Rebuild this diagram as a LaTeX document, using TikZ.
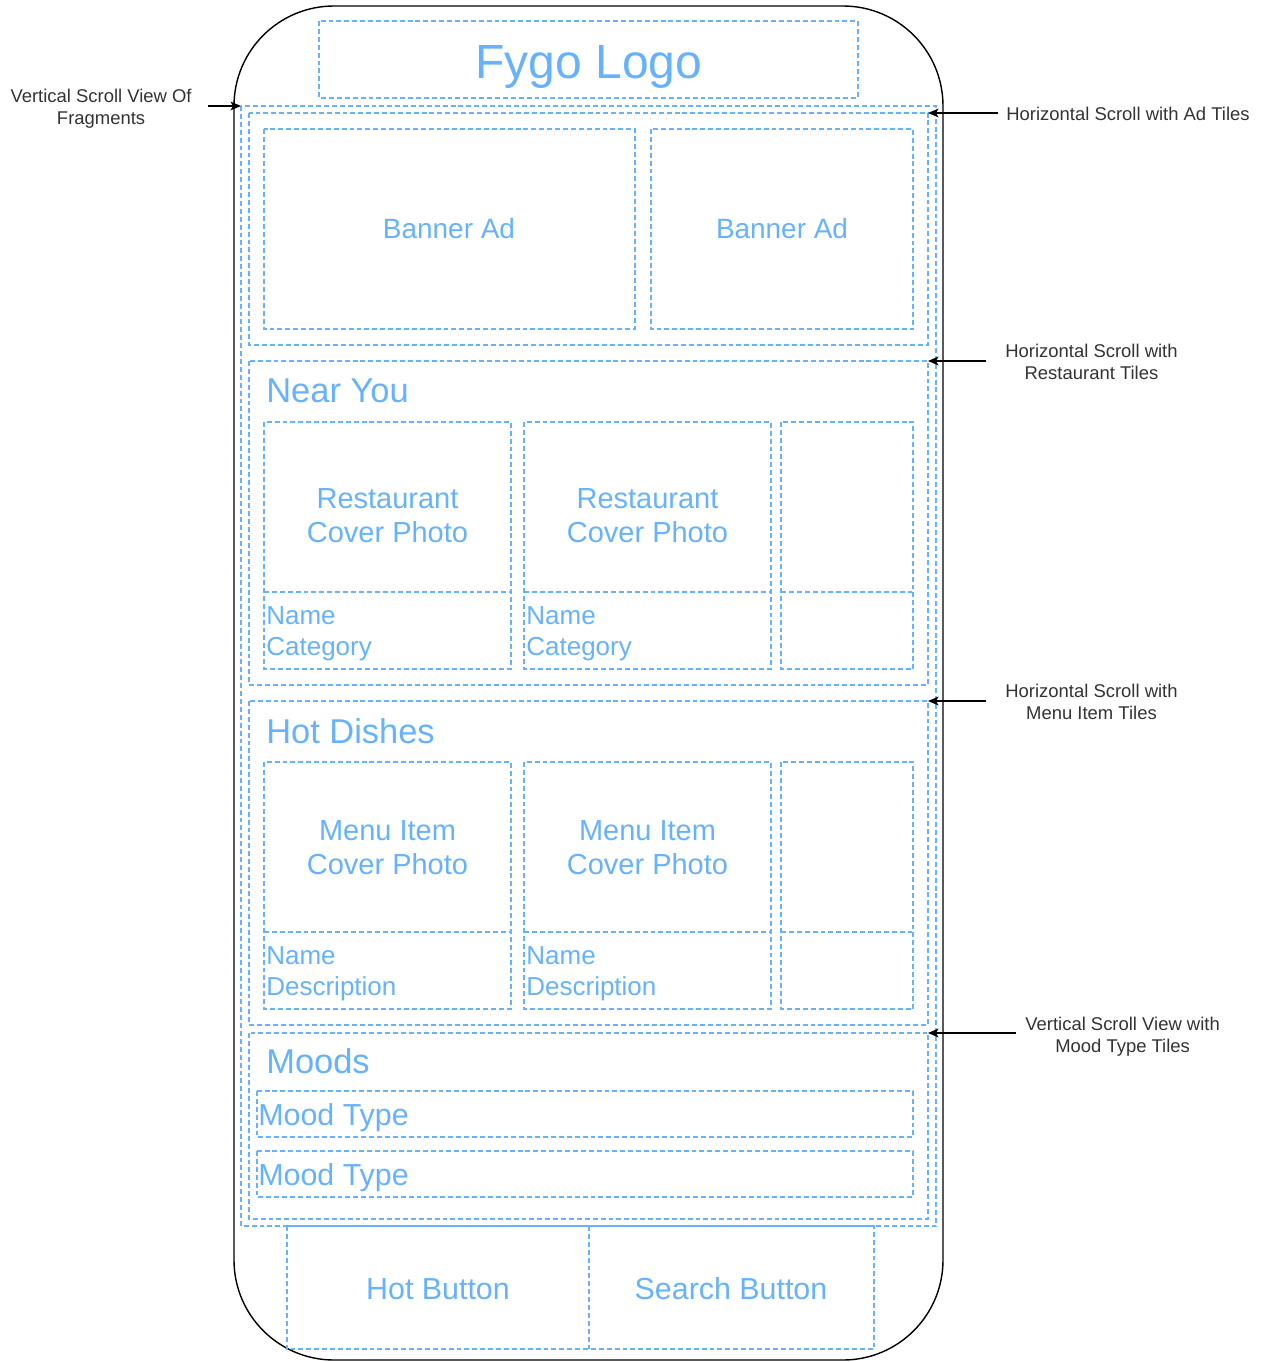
\documentclass[tikz,border=0pt]{standalone}
\usepackage{fontspec}
\setmainfont{Liberation Sans}
\usepackage{tikz}
\usetikzlibrary{arrows.meta}

\definecolor{wire}{HTML}{66B2FF}
\definecolor{ink}{HTML}{333333}

\tikzset{
    box/.style={draw=wire, line width=0.65pt, dash pattern=on 2.8pt off 1.7pt},
    lbl/.style={text=wire, inner sep=0pt},
    note/.style={text=ink, inner sep=0pt, align=center, font=\fontsize{10.5}{12.5}\selectfont},
}

\begin{document}
\begin{tikzpicture}[x=0.02cm, y=-0.02cm, >={Stealth[length=6pt, width=5pt, inset=1.5pt]}]

    % Frame of the picture (pixel grid of the mock-up)
    \useasboundingbox (0,0) rectangle (1263,1362);

    % Font sizes
    \def\fbig{\fontsize{27.3}{30}\selectfont}
    \def\fhead{\fontsize{19.6}{22}\selectfont}
    \def\fad{\fontsize{15.9}{18}\selectfont}
    \def\ftile{\fontsize{16.5}{19.3}\selectfont}
    \def\finfo{\fontsize{14.8}{17.6}\selectfont}
    \def\fbtn{\fontsize{17.3}{20}\selectfont}

    % Phone body
    \draw[black, line width=0.8pt, rounded corners=2cm] (234,6) rectangle (943,1360);

    % Logo bar
    \draw[box] (319,21) rectangle (858,98);
    \node[lbl, font=\fbig] (logo) at (589,67) {Fygo Logo};

    % Vertical scroll view
    \draw[box] (241,106) rectangle (936,1226);
    \coordinate (scroll) at (241,106);

    % Ad tiles
    \draw[box] (249,113) rectangle (928,345);
    \coordinate (adsec) at (928,113);
    \draw[box] (264,129) rectangle (635,329);
    \draw[box] (651,129) rectangle (913,329);
    \node[lbl, font=\fad] (ad1) at (449,229) {Banner Ad};
    \node[lbl, font=\fad] (ad2) at (782,229) {Banner Ad};

    % Restaurant row and menu item row
    \foreach \oy/\nm/\title/\top/\sub/\ty in {0/near/Near You/Restaurant/Category/515, 340/hot/Hot Dishes/Menu Item/Description/847}{
        \draw[box] (249,{361+\oy}) rectangle (928,{685+\oy});
        \coordinate (\nm sec) at (928,{361+\oy});
        \node[lbl, anchor=west, font=\fhead] (\nm title) at (266,{391+\oy}) {\title};
        \foreach \xa/\xb in {264/511, 524/771, 781/913}{
            \draw[box] (\xa,{422+\oy}) rectangle (\xb,{669+\oy});
            \draw[box] (\xa,{592+\oy}) -- (\xb,{592+\oy});
        }
        \foreach \xa/\xb/\i in {264/511/1, 524/771/2}{
            \node[lbl, align=center, font=\ftile] (\nm photo\i) at ({(\xa+\xb)/2},{\ty+1}) {\top\\Cover Photo};
            \node[lbl, anchor=west, align=left, font=\finfo] (\nm info\i) at ({\xa+2},{634+\oy}) {Name\\\sub};
        }
    }

    % Mood type tiles
    \draw[box] (249,1033) rectangle (928,1219);
    \coordinate (moodsec) at (928,1033);
    \node[lbl, anchor=west, font=\fhead] (moods) at (266,1061) {Moods};
    \foreach \y/\i in {1091/1, 1151/2}{
        \draw[box] (257,\y) rectangle (913,{\y+46});
        \node[lbl, anchor=west, font=\fbtn] (mood\i) at (258,{\y+27}) {Mood Type};
    }

    % Bottom buttons
    \draw[box] (287,1226) rectangle (874,1349);
    \draw[box] (589,1226) -- (589,1349);
    \node[lbl, font=\fbtn] (hotbtn) at (438,1289) {Hot Button};
    \node[lbl, font=\fbtn] (searchbtn) at (731,1289) {Search Button};

    % Notes
    \node[note, anchor=east] (vsnote) at (192,109) {Vertical Scroll View Of\\Fragments};
    \draw[->, line width=0.6pt] ([xshift=9pt]vsnote.east |- scroll) -- (scroll);

    \node[note, anchor=west] (adnote) at (1006,114) {Horizontal Scroll with Ad Tiles};
    \draw[->, line width=0.6pt] ([xshift=-4.5pt]adnote.west |- adsec) -- (adsec);

    \node[note, anchor=west] (nearnote) at (1005,362) {Horizontal Scroll with\\Restaurant Tiles};
    \draw[->, line width=0.6pt] ([xshift=-10.8pt]nearnote.west |- nearsec) -- (nearsec);

    \node[note, anchor=west] (hotnote) at (1005,702) {Horizontal Scroll with\\Menu Item Tiles};
    \draw[->, line width=0.6pt] ([xshift=-10.8pt]hotnote.west |- hotsec) -- (hotsec);

    \node[note, anchor=west] (moodnote) at (1025,1037) {Vertical Scroll View with\\Mood Type Tiles};
    \draw[->, line width=0.6pt] ([xshift=-5pt]moodnote.west |- moodsec) -- (moodsec);

\end{tikzpicture}
\end{document}
